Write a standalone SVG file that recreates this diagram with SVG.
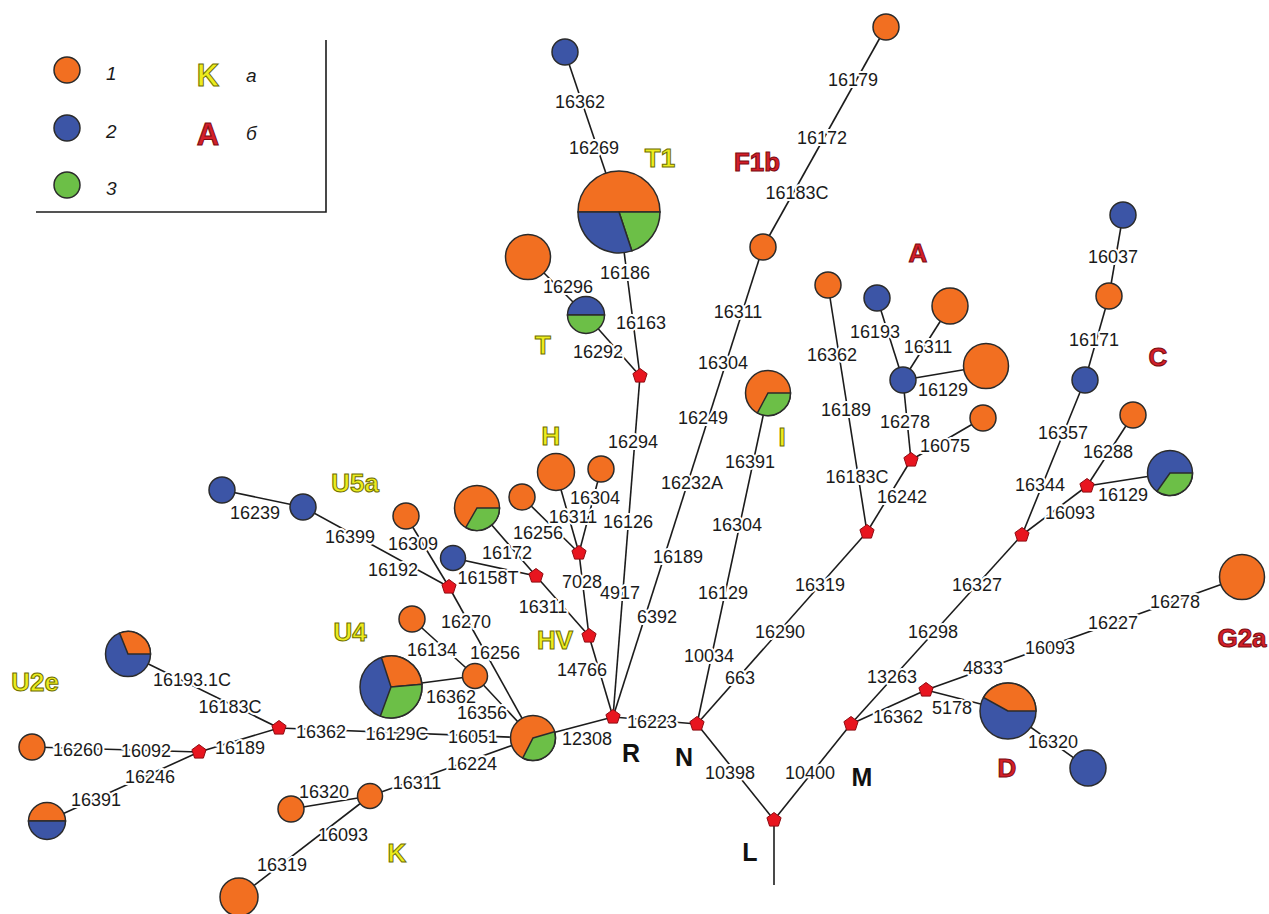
<svg xmlns="http://www.w3.org/2000/svg" width="1269" height="914" viewBox="0 0 1269 914">
<style>
.ln{stroke:#1c1c1c;stroke-width:1.6;fill:none}
.o{fill:#f26f21;stroke:#2b2b2b;stroke-width:1.5}
.b{fill:#3c55a6;stroke:#2b2b2b;stroke-width:1.5}
.g{fill:#6cbf47;stroke:#2b2b2b;stroke-width:1.5}
.t{font-family:"Liberation Sans",Arial,sans-serif;font-size:18px;fill:#1a1a1a;text-anchor:middle;dominant-baseline:central;paint-order:stroke;stroke:#fff;stroke-width:4px;stroke-linejoin:round}
.hy{font-family:"Liberation Sans",Arial,sans-serif;font-weight:bold;font-size:26px;fill:#ecec1e;stroke:#6e6e00;stroke-width:1;text-anchor:middle;dominant-baseline:central}
.hr{font-family:"Liberation Sans",Arial,sans-serif;font-weight:bold;font-size:26px;fill:#d41f2a;stroke:#7a0b10;stroke-width:1;text-anchor:middle;dominant-baseline:central}
.hb{font-family:"Liberation Sans",Arial,sans-serif;font-weight:bold;font-size:25px;fill:#111;text-anchor:middle;dominant-baseline:central}
.lg{font-family:"Liberation Sans",Arial,sans-serif;font-style:italic;font-size:19px;fill:#1a1a1a;dominant-baseline:central}
</style>
<defs>
<polygon id="pv" points="0,-7.5 7.1,-2.3 4.4,6.1 -4.4,6.1 -7.1,-2.3" fill="#e8151f" stroke="#8f0c12" stroke-width="1"/>
</defs>

<g id="legend">
<path class="ln" d="M326,40 V212 H36"/>
<circle class="o" cx="67" cy="70" r="13"/>
<circle class="b" cx="67" cy="128" r="13"/>
<circle class="g" cx="67" cy="185" r="13"/>
<text class="lg" x="106" y="73">1</text>
<text class="lg" x="106" y="131">2</text>
<text class="lg" x="106" y="188">3</text>
<text class="hy" x="208" y="75" style="font-size:31px">K</text>
<text class="lg" x="246" y="75">a</text>
<text class="hr" x="208" y="134" style="font-size:31px">A</text>
<text class="lg" x="246" y="133">б</text>
</g>

<g id="connectors">
<line class="ln" x1="565" y1="52" x2="619" y2="212"/>
<line class="ln" x1="619" y1="212" x2="640" y2="376"/>
<line class="ln" x1="528" y1="257" x2="586" y2="315"/>
<line class="ln" x1="586" y1="315" x2="640" y2="376"/>
<line class="ln" x1="640" y1="376" x2="613" y2="717"/>
<line class="ln" x1="886" y1="27" x2="763" y2="247"/>
<line class="ln" x1="763" y1="247" x2="613" y2="717"/>
<line class="ln" x1="768" y1="393" x2="697" y2="724"/>
<line class="ln" x1="613" y1="717" x2="697" y2="724"/>
<line class="ln" x1="697" y1="724" x2="774" y2="820"/>
<line class="ln" x1="774" y1="820" x2="851" y2="724"/>
<line class="ln" x1="774" y1="820" x2="774" y2="885"/>
<line class="ln" x1="697" y1="724" x2="867" y2="532"/>
<line class="ln" x1="828" y1="285" x2="867" y2="532"/>
<line class="ln" x1="867" y1="532" x2="911" y2="460"/>
<line class="ln" x1="911" y1="460" x2="903" y2="380"/>
<line class="ln" x1="903" y1="380" x2="877" y2="298"/>
<line class="ln" x1="903" y1="380" x2="950" y2="306"/>
<line class="ln" x1="903" y1="380" x2="986" y2="366"/>
<line class="ln" x1="911" y1="460" x2="983" y2="418"/>
<line class="ln" x1="851" y1="724" x2="1022" y2="535"/>
<line class="ln" x1="1022" y1="535" x2="1085" y2="380"/>
<line class="ln" x1="1085" y1="380" x2="1109" y2="296"/>
<line class="ln" x1="1109" y1="296" x2="1123" y2="215"/>
<line class="ln" x1="1022" y1="535" x2="1087" y2="486"/>
<line class="ln" x1="1087" y1="486" x2="1133" y2="415"/>
<line class="ln" x1="1087" y1="486" x2="1170" y2="473"/>
<line class="ln" x1="851" y1="724" x2="926" y2="690"/>
<line class="ln" x1="926" y1="690" x2="1008" y2="711"/>
<line class="ln" x1="926" y1="690" x2="1242" y2="577"/>
<line class="ln" x1="1008" y1="711" x2="1088" y2="768"/>
<line class="ln" x1="556" y1="472" x2="579" y2="553"/>
<line class="ln" x1="601" y1="469" x2="579" y2="553"/>
<line class="ln" x1="522" y1="497" x2="579" y2="553"/>
<line class="ln" x1="579" y1="553" x2="589" y2="636"/>
<line class="ln" x1="477" y1="508" x2="536" y2="576"/>
<line class="ln" x1="453" y1="558" x2="536" y2="576"/>
<line class="ln" x1="536" y1="576" x2="589" y2="636"/>
<line class="ln" x1="589" y1="636" x2="613" y2="717"/>
<line class="ln" x1="613" y1="717" x2="533" y2="738"/>
<line class="ln" x1="222" y1="490" x2="303" y2="507"/>
<line class="ln" x1="303" y1="507" x2="449" y2="587"/>
<line class="ln" x1="406" y1="516" x2="449" y2="587"/>
<line class="ln" x1="449" y1="587" x2="533" y2="738"/>
<line class="ln" x1="412" y1="619" x2="475" y2="676"/>
<line class="ln" x1="391" y1="687" x2="475" y2="676"/>
<line class="ln" x1="475" y1="676" x2="533" y2="738"/>
<line class="ln" x1="279" y1="728" x2="533" y2="738"/>
<line class="ln" x1="128" y1="654" x2="279" y2="728"/>
<line class="ln" x1="279" y1="728" x2="199" y2="752"/>
<line class="ln" x1="199" y1="752" x2="32" y2="747"/>
<line class="ln" x1="199" y1="752" x2="47" y2="821"/>
<line class="ln" x1="533" y1="738" x2="370" y2="796"/>
<line class="ln" x1="370" y1="796" x2="291" y2="809"/>
<line class="ln" x1="370" y1="796" x2="239" y2="897"/>
</g>

<g id="mutations">
<text class="t" x="580" y="102">16362</text>
<text class="t" x="594" y="148">16269</text>
<text class="t" x="625" y="273">16186</text>
<text class="t" x="568" y="287">16296</text>
<text class="t" x="641" y="323">16163</text>
<text class="t" x="598" y="352">16292</text>
<text class="t" x="853" y="80">16179</text>
<text class="t" x="822" y="138">16172</text>
<text class="t" x="797" y="193">16183C</text>
<text class="t" x="738" y="312">16311</text>
<text class="t" x="723" y="363">16304</text>
<text class="t" x="703" y="418">16249</text>
<text class="t" x="692" y="483">16232A</text>
<text class="t" x="678" y="557">16189</text>
<text class="t" x="657" y="617">6392</text>
<text class="t" x="750" y="462">16391</text>
<text class="t" x="737" y="525">16304</text>
<text class="t" x="723" y="593">16129</text>
<text class="t" x="709" y="656">10034</text>
<text class="t" x="633" y="442">16294</text>
<text class="t" x="628" y="522">16126</text>
<text class="t" x="620" y="593">4917</text>
<text class="t" x="582" y="670">14766</text>
<text class="t" x="652" y="722">16223</text>
<text class="t" x="587" y="739">12308</text>
<text class="t" x="730" y="773">10398</text>
<text class="t" x="810" y="773">10400</text>
<text class="t" x="740" y="678">663</text>
<text class="t" x="780" y="632">16290</text>
<text class="t" x="820" y="585">16319</text>
<text class="t" x="832" y="355">16362</text>
<text class="t" x="846" y="410">16189</text>
<text class="t" x="857" y="477">16183C</text>
<text class="t" x="875" y="332">16193</text>
<text class="t" x="928" y="347">16311</text>
<text class="t" x="943" y="390">16129</text>
<text class="t" x="905" y="422">16278</text>
<text class="t" x="945" y="446">16075</text>
<text class="t" x="902" y="497">16242</text>
<text class="t" x="1113" y="257">16037</text>
<text class="t" x="1094" y="340">16171</text>
<text class="t" x="1063" y="433">16357</text>
<text class="t" x="1040" y="485">16344</text>
<text class="t" x="1108" y="452">16288</text>
<text class="t" x="1123" y="495">16129</text>
<text class="t" x="1070" y="513">16093</text>
<text class="t" x="977" y="585">16327</text>
<text class="t" x="933" y="632">16298</text>
<text class="t" x="892" y="677">13263</text>
<text class="t" x="898" y="717">16362</text>
<text class="t" x="952" y="708">5178</text>
<text class="t" x="983" y="668">4833</text>
<text class="t" x="1050" y="648">16093</text>
<text class="t" x="1113" y="623">16227</text>
<text class="t" x="1175" y="602">16278</text>
<text class="t" x="1053" y="742">16320</text>
<text class="t" x="595" y="498">16304</text>
<text class="t" x="573" y="517">16311</text>
<text class="t" x="538" y="533">16256</text>
<text class="t" x="507" y="553">16172</text>
<text class="t" x="488" y="578">16158T</text>
<text class="t" x="582" y="582">7028</text>
<text class="t" x="543" y="607">16311</text>
<text class="t" x="255" y="513">16239</text>
<text class="t" x="350" y="537">16399</text>
<text class="t" x="413" y="544">16309</text>
<text class="t" x="393" y="570">16192</text>
<text class="t" x="466" y="622">16270</text>
<text class="t" x="432" y="650">16134</text>
<text class="t" x="495" y="653">16256</text>
<text class="t" x="451" y="697">16362</text>
<text class="t" x="482" y="713">16356</text>
<text class="t" x="321" y="732">16362</text>
<text class="t" x="397" y="734">16129C</text>
<text class="t" x="473" y="737">16051</text>
<text class="t" x="472" y="764">16224</text>
<text class="t" x="417" y="783">16311</text>
<text class="t" x="324" y="792">16320</text>
<text class="t" x="343" y="835">16093</text>
<text class="t" x="282" y="865">16319</text>
<text class="t" x="192" y="680">16193.1C</text>
<text class="t" x="230" y="707">16183C</text>
<text class="t" x="240" y="748">16189</text>
<text class="t" x="78" y="750">16260</text>
<text class="t" x="146" y="751">16092</text>
<text class="t" x="150" y="777">16246</text>
<text class="t" x="96" y="800">16391</text>
</g>

<g id="medians">
<use href="#pv" x="640" y="376"/>
<use href="#pv" x="613" y="717"/>
<use href="#pv" x="697" y="724"/>
<use href="#pv" x="774" y="820"/>
<use href="#pv" x="851" y="724"/>
<use href="#pv" x="926" y="690"/>
<use href="#pv" x="1022" y="535"/>
<use href="#pv" x="1087" y="486"/>
<use href="#pv" x="867" y="532"/>
<use href="#pv" x="911" y="460"/>
<use href="#pv" x="579" y="553"/>
<use href="#pv" x="589" y="636"/>
<use href="#pv" x="536" y="576"/>
<use href="#pv" x="449" y="587"/>
<use href="#pv" x="279" y="728"/>
<use href="#pv" x="199" y="752"/>
</g>

<g id="n-T1top"><circle class="b" cx="565" cy="52" r="13"/></g>
<g id="n-T1">
<path class="o" d="M578,212 A41,41 0 0 1 660,212 Z"/>
<path class="g" d="M619,212 L660,212 A41,41 0 0 1 631.9,250.9 Z"/>
<path class="b" d="M619,212 L631.9,250.9 A41,41 0 0 1 578,212 Z"/>
</g>
<g id="n-Tleft"><circle class="o" cx="528" cy="257" r="22.5"/></g>
<g id="n-T">
<path class="b" d="M567.5,315 A18.5,18.5 0 0 1 604.5,315 Z"/>
<path class="g" d="M604.5,315 A18.5,18.5 0 0 1 567.5,315 Z"/>
</g>
<g id="n-F1btop"><circle class="o" cx="886" cy="27" r="13"/></g>
<g id="n-F1b"><circle class="o" cx="763" cy="247" r="13"/></g>
<g id="n-I">
<circle class="o" cx="768" cy="393" r="22.5"/>
<path class="g" d="M768,393 L790.5,393 A22.5,22.5 0 0 1 757.4,412.9 Z"/>
</g>
<g id="n-A1"><circle class="o" cx="828" cy="285" r="13"/></g>
<g id="n-A2"><circle class="b" cx="877" cy="298" r="13"/></g>
<g id="n-A3"><circle class="o" cx="950" cy="306" r="18"/></g>
<g id="n-A4"><circle class="b" cx="903" cy="380" r="13"/></g>
<g id="n-A5"><circle class="o" cx="986" cy="366" r="22.5"/></g>
<g id="n-A6"><circle class="o" cx="983" cy="418" r="13"/></g>
<g id="n-C1"><circle class="b" cx="1123" cy="215" r="13"/></g>
<g id="n-C2"><circle class="o" cx="1109" cy="296" r="13"/></g>
<g id="n-C3"><circle class="b" cx="1085" cy="380" r="13"/></g>
<g id="n-C4"><circle class="o" cx="1133" cy="415" r="13"/></g>
<g id="n-C5">
<circle class="b" cx="1170" cy="473" r="22.5"/>
<path class="g" d="M1170,473 L1192.5,473 A22.5,22.5 0 0 1 1157.1,491.4 Z"/>
</g>
<g id="n-D">
<circle class="b" cx="1008" cy="711" r="28"/>
<path class="o" d="M1008,711 L983.5,697.4 A28,28 0 0 1 1036,711 Z"/>
</g>
<g id="n-D2"><circle class="b" cx="1088" cy="768" r="18"/></g>
<g id="n-G2a"><circle class="o" cx="1242" cy="577" r="22.5"/></g>
<g id="n-H1"><circle class="o" cx="556" cy="472" r="18.5"/></g>
<g id="n-H2"><circle class="o" cx="601" cy="469" r="13"/></g>
<g id="n-H3"><circle class="o" cx="522" cy="497" r="13"/></g>
<g id="n-H4">
<circle class="o" cx="477" cy="508" r="22.5"/>
<path class="g" d="M477,508 L499.5,508 A22.5,22.5 0 0 1 465.8,527.5 Z"/>
</g>
<g id="n-H5"><circle class="b" cx="453" cy="558" r="12.5"/></g>
<g id="n-U5a1"><circle class="b" cx="222" cy="490" r="13"/></g>
<g id="n-U5a2"><circle class="b" cx="303" cy="507" r="13"/></g>
<g id="n-U5a3"><circle class="o" cx="406" cy="516" r="13"/></g>
<g id="n-U4a"><circle class="o" cx="412" cy="619" r="13"/></g>
<g id="n-U4">
<circle class="b" cx="391" cy="687" r="31"/>
<path class="o" d="M391,687 L381.4,657.5 A31,31 0 0 1 421.9,684.3 Z"/>
<path class="g" d="M391,687 L421.9,684.3 A31,31 0 0 1 380.4,716.1 Z"/>
</g>
<g id="n-U4b"><circle class="o" cx="475" cy="676" r="12.5"/></g>
<g id="n-U">
<circle class="o" cx="533" cy="738" r="22.5"/>
<path class="g" d="M533,738 L554.6,731.8 A22.5,22.5 0 0 1 522.8,758 Z"/>
</g>
<g id="n-U2e">
<circle class="b" cx="128" cy="654" r="22.5"/>
<path class="o" d="M128,654 L119.6,633.1 A22.5,22.5 0 0 1 150.5,654 Z"/>
</g>
<g id="n-U2e2"><circle class="o" cx="32" cy="747" r="13"/></g>
<g id="n-U2e3">
<path class="o" d="M28.5,821 A18.5,18.5 0 0 1 65.5,821 Z"/>
<path class="b" d="M65.5,821 A18.5,18.5 0 0 1 28.5,821 Z"/>
</g>
<g id="n-K1"><circle class="o" cx="370" cy="796" r="12.5"/></g>
<g id="n-K2"><circle class="o" cx="291" cy="809" r="13"/></g>
<g id="n-K3"><circle class="o" cx="239" cy="897" r="19"/></g>

<g id="haplogroups">
<text class="hy" x="660" y="158">T1</text>
<text class="hy" x="543" y="345">T</text>
<text class="hr" x="757" y="162">F1b</text>
<text class="hy" x="782" y="437">I</text>
<text class="hr" x="918" y="253">A</text>
<text class="hr" x="1158" y="357">C</text>
<text class="hr" x="1007" y="768">D</text>
<text class="hr" x="1242" y="638">G2a</text>
<text class="hy" x="551" y="436">H</text>
<text class="hy" x="555" y="640">HV</text>
<text class="hy" x="355" y="483">U5a</text>
<text class="hy" x="350" y="632">U4</text>
<text class="hy" x="35" y="682">U2e</text>
<text class="hy" x="397" y="853">K</text>
<text class="hb" x="631" y="753">R</text>
<text class="hb" x="684" y="757">N</text>
<text class="hb" x="750" y="852">L</text>
<text class="hb" x="862" y="777">M</text>
</g>
</svg>
